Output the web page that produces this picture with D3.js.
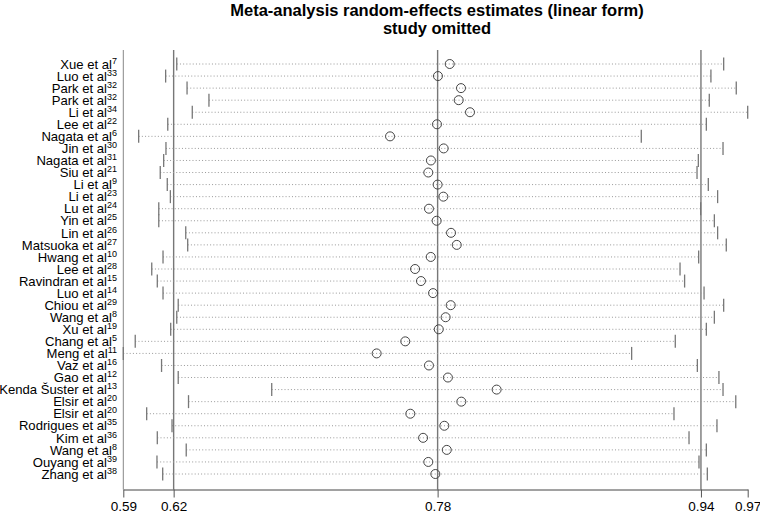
<!DOCTYPE html>
<html>
<head>
  <meta charset="utf-8">
  <title>metaninf plot</title>
  <script src="https://d3js.org/d3.v7.min.js"></script>
  <style>
    body { margin: 0; background: #fff; }
    svg { display: block; font-family: "Liberation Sans", Arial, sans-serif; }
  </style>
</head>
<body>
  <div id="chart"></div>
  <script type="text/javascript">
    // study omitted, reference number
    var studies = ["Xue et al", "Luo et al", "Park et al", "Park et al", "Li et al", "Lee et al", "Nagata et al",
      "Jin et al", "Nagata et al", "Siu et al", "Li et al", "Li et al", "Lu et al", "Yin et al", "Lin et al",
      "Matsuoka et al", "Hwang et al", "Lee et al", "Ravindran et al", "Luo et al", "Chiou et al", "Wang et al",
      "Xu et al", "Chang et al", "Meng et al", "Vaz et al", "Gao et al", "Kenda Šuster et al", "Elsir et al",
      "Elsir et al", "Rodrigues et al", "Kim et al", "Wang et al", "Ouyang et al", "Zhang et al"]
    var refs = ["7", "33", "32", "32", "34", "22", "6", "30", "31", "21", "9", "23", "24", "25", "26", "27", "10", "28",
      "15", "14", "29", "8", "19", "5", "11", "16", "12", "13", "20", "20", "35", "36", "8", "39", "38"]
    var estimate = [0.7887, 0.7815, 0.7956, 0.7942, 0.8011, 0.7809, 0.7522, 0.7850, 0.7772, 0.7756, 0.7813, 0.7848,
      0.7760, 0.7807, 0.7895, 0.7930, 0.7771, 0.7675, 0.7711, 0.7785, 0.7893, 0.7862, 0.7820, 0.7615, 0.7440,
      0.7760, 0.7876, 0.8174, 0.7958, 0.7646, 0.7854, 0.7724, 0.7869, 0.7756, 0.7799]
    var lower = [0.6217, 0.6149, 0.6280, 0.6414, 0.6312, 0.6162, 0.5984, 0.6151, 0.6137, 0.6116, 0.6159, 0.6178,
      0.6107, 0.6107, 0.6272, 0.6284, 0.6133, 0.6064, 0.6098, 0.6133, 0.6226, 0.6217, 0.6180, 0.5963, 0.5890,
      0.6124, 0.6226, 0.6798, 0.6289, 0.6033, 0.6188, 0.6098, 0.6275, 0.6096, 0.6131]
    var upper = [0.9563, 0.9485, 0.9640, 0.9475, 0.9710, 0.9457, 0.9059, 0.9559, 0.9408, 0.9400, 0.9469, 0.9526,
      0.9422, 0.9506, 0.9526, 0.9579, 0.9410, 0.9296, 0.9324, 0.9443, 0.9563, 0.9506, 0.9457, 0.9267, 0.9000,
      0.9402, 0.9534, 0.9559, 0.9637, 0.9259, 0.9522, 0.9351, 0.9457, 0.9412, 0.9463]
    // overall: lower, estimate, upper
    var overall = [0.6198, 0.7813, 0.9424]
    var tickValues = [0.589, 0.6198, 0.7813, 0.9424, 0.971]

    var width = 760, height = 514
    var svg = d3.select("#chart").append("svg").attr("width", width).attr("height", height)

    var x = d3.scaleLinear().domain([0.589, 0.971]).range([123.3, 747.7])
    var rows = d3.range(studies.length)
    var y = d3.scalePoint().domain(rows).range([64, 474])
    var plotTop = 50, plotBottom = 489.5

    // title
    svg.append("text").attr("x", 437).attr("y", 16).attr("text-anchor", "middle")
      .attr("font-size", 16.5).attr("font-weight", "bold").text("Meta-analysis random-effects estimates (linear form)")
    svg.append("text").attr("x", 437).attr("y", 34).attr("text-anchor", "middle")
      .attr("font-size", 16.5).attr("font-weight", "bold").text("study omitted")

    // left edge + reference lines
    svg.append("line").attr("x1", x(0.589)).attr("x2", x(0.589)).attr("y1", plotTop).attr("y2", plotBottom)
      .attr("stroke", "#888").attr("stroke-width", 1)
    svg.selectAll(".ref").data(overall).enter().append("line")
      .attr("x1", d => x(d)).attr("x2", d => x(d)).attr("y1", plotTop).attr("y2", plotBottom)
      .attr("stroke", "#777").attr("stroke-width", 1.4)

    // dotted CI lines
    svg.selectAll(".ci").data(rows).enter().append("line")
      .attr("x1", i => x(lower[i])).attr("x2", i => x(upper[i]))
      .attr("y1", i => y(i)).attr("y2", i => y(i))
      .attr("stroke", "#999").attr("stroke-width", 1).attr("stroke-dasharray", "1,2.2")

    // caps
    svg.selectAll(".capL").data(rows).enter().append("line")
      .attr("x1", i => x(lower[i])).attr("x2", i => x(lower[i]))
      .attr("y1", i => y(i) - 6.5).attr("y2", i => y(i) + 6.5)
      .attr("stroke", "#777").attr("stroke-width", 1.3)
    svg.selectAll(".capU").data(rows).enter().append("line")
      .attr("x1", i => x(upper[i])).attr("x2", i => x(upper[i]))
      .attr("y1", i => y(i) - 6.5).attr("y2", i => y(i) + 6.5)
      .attr("stroke", "#777").attr("stroke-width", 1.3)

    // estimates
    svg.selectAll(".est").data(rows).enter().append("circle")
      .attr("cx", i => x(estimate[i])).attr("cy", i => y(i)).attr("r", 4.5)
      .attr("fill", "none").attr("stroke", "#444").attr("stroke-width", 1)

    // study labels
    var lab = svg.selectAll(".lab").data(rows).enter().append("text")
      .attr("x", 117).attr("y", i => y(i) + 4.7).attr("text-anchor", "end")
      .attr("font-size", 13.1).attr("fill", "#000")
    lab.append("tspan").text(i => studies[i])
    lab.append("tspan").attr("font-size", 9).attr("dy", -5).text(i => refs[i])

    // axis
    var axis = svg.append("g").attr("transform", "translate(0," + plotBottom + ")")
      .call(d3.axisBottom(x).tickValues(tickValues).tickFormat(d3.format(".2f")).tickSize(8).tickSizeOuter(0).tickPadding(4))
    axis.select(".domain").attr("stroke", "#444")
    axis.selectAll(".tick line").attr("stroke", "#555")
    axis.selectAll("text").attr("font-size", 13.5).attr("fill", "#000")
      .attr("font-family", "'Liberation Sans', Arial, sans-serif")
  </script>
</body>
</html>
